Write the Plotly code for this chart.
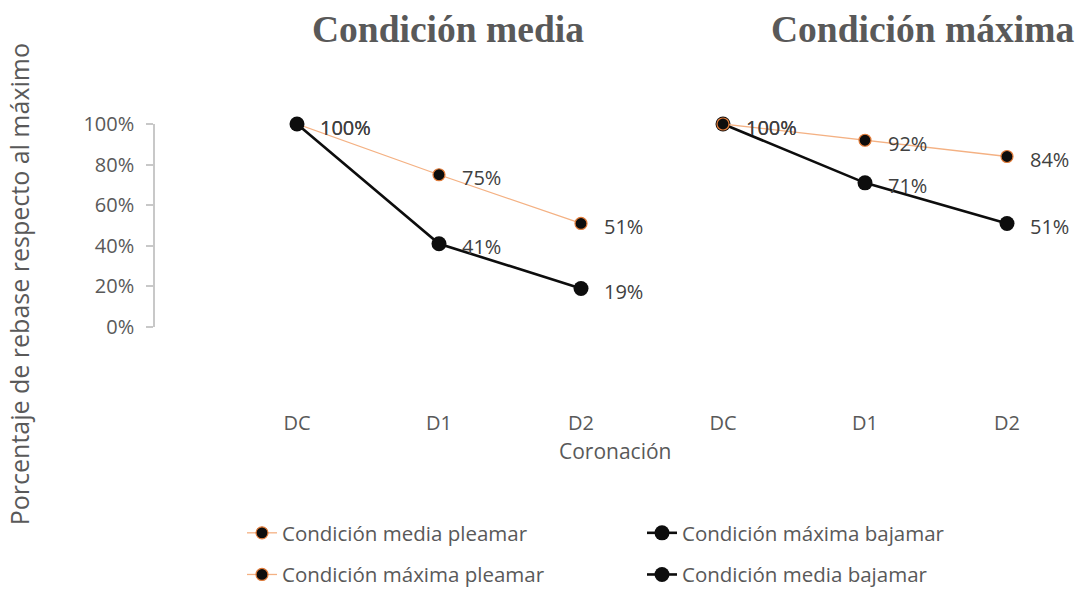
import plotly.graph_objects as go

# ---- data ----
categories = ["DC", "D1", "D2"]
groups = ["Condición media", "Condición máxima"]
media_pleamar = [1.00, 0.75, 0.51]
media_bajamar = [1.00, 0.41, 0.19]
maxima_pleamar = [1.00, 0.92, 0.84]
maxima_bajamar = [1.00, 0.71, 0.51]
y_ticks = [0, 0.2, 0.4, 0.6, 0.8, 1.0]

x_media = [0, 1, 2]
x_maxima = [3, 4, 5]
tick_pos = x_media + x_maxima
tick_text = categories + categories

FONT = "Open Sans"
GREY = "#595959"
LABEL = "#404040"
ORANGE_LINE = "#F4B183"
ORANGE_EDGE = "#E07B39"

W, H = 1078, 595
ML, MR, MT, MB = 155, 0, 124, 262
PW = W - ML - MR
PH = H - MT - MB
PB = H - MB  # pixel row of plot bottom


def px_x(p):
    return (p - ML) / PW


def px_y(p):
    return (PB - p) / PH


def pct(v):
    return f"{round(v*100)}%"


fig = go.Figure()

series = [
    ("Condición media pleamar", x_media, media_pleamar, "pleamar", "legend"),
    ("Condición máxima bajamar", x_maxima, maxima_bajamar, "bajamar", "legend2"),
    ("Condición máxima pleamar", x_maxima, maxima_pleamar, "pleamar", "legend"),
    ("Condición media bajamar", x_media, media_bajamar, "bajamar", "legend2"),
]

for name, xs, ys, kind, leg in series:
    if kind == "pleamar":
        line = dict(color=ORANGE_LINE, width=1.3)
        marker = dict(size=12, color="#0d0d0d", line=dict(color=ORANGE_EDGE, width=1.2))
    else:
        line = dict(color="#0d0d0d", width=2.6)
        marker = dict(size=15, color="#0d0d0d", line=dict(width=0))
    fig.add_trace(go.Scatter(
        x=xs, y=ys, name=name, mode="lines+markers",
        line=line, marker=marker, hoverinfo="skip",
        cliponaxis=False, legend=leg, legendgroup=name,
    ))
    for xv, yv in zip(xs, ys):
        fig.add_annotation(
            x=xv, y=yv, xref="x", yref="y", text=pct(yv),
            showarrow=False, xanchor="left", yanchor="middle",
            xshift=21, yshift=-3,
            font=dict(family=FONT, size=20, color=LABEL),
        )

fig.update_layout(
    width=W, height=H,
    margin=dict(l=ML, r=MR, t=MT, b=MB),
    paper_bgcolor="white", plot_bgcolor="white",
    font=dict(family=FONT, color=GREY, size=20),
    xaxis=dict(
        range=[-1, 5.5], tickvals=tick_pos, ticktext=tick_text,
        showgrid=False, zeroline=False, showline=False, ticks="",
        ticklabelstandoff=82,
        tickfont=dict(family=FONT, size=20, color=GREY),
    ),
    yaxis=dict(
        range=[0, 1], tickvals=y_ticks, tickformat=".0%",
        showgrid=False, zeroline=False, showline=True,
        linecolor="#C8C8C8", linewidth=1.5,
        ticks="outside", ticklen=7, tickcolor="#C8C8C8", tickwidth=1.5,
        ticklabelstandoff=8,
        tickfont=dict(family=FONT, size=20, color=GREY),
    ),
    legend=dict(
        x=px_x(242), xanchor="left", y=px_y(525), yanchor="top",
        orientation="v", tracegroupgap=12, traceorder="grouped",
        font=dict(family=FONT, size=20.5, color=GREY), bgcolor="rgba(0,0,0,0)",
    ),
    legend2=dict(
        x=px_x(642), xanchor="left", y=px_y(525), yanchor="top",
        orientation="v", tracegroupgap=12, traceorder="grouped",
        font=dict(family=FONT, size=20.5, color=GREY), bgcolor="rgba(0,0,0,0)",
    ),
    showlegend=True,
)

titles = [(groups[0], 448, 27), (groups[1], 922, 27)]
for txt, px, py in titles:
    fig.add_annotation(
        text=f"<b>{txt}</b>", xref="paper", yref="paper",
        x=px_x(px), y=px_y(py),
        xanchor="center", yanchor="middle", showarrow=False,
        font=dict(family="Liberation Serif", size=37.5, color=GREY),
    )

fig.add_annotation(
    text="Coronación", xref="paper", yref="paper",
    x=px_x(615), y=px_y(461),
    xanchor="center", yanchor="middle", showarrow=False,
    font=dict(family=FONT, size=21, color=GREY),
)
fig.add_annotation(
    text="Porcentaje de rebase respecto al máximo", xref="paper", yref="paper",
    x=px_x(19), y=px_y(289), textangle=-90,
    xanchor="center", yanchor="middle", showarrow=False,
    font=dict(family=FONT, size=25, color=GREY),
)

fig.write_html(
    "out.html",
    config={"displayModeBar": False},
    post_script=(
        "document.documentElement.style.margin='0';"
        "document.documentElement.style.overflow='hidden';"
        "document.body.style.margin='0';"
        "document.body.style.overflow='hidden';"
    ),
)
